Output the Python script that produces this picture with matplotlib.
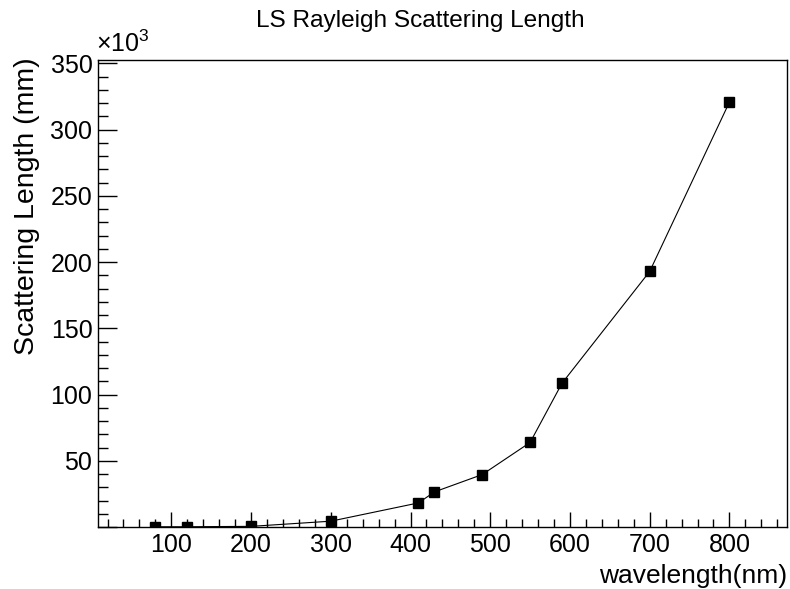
import matplotlib
matplotlib.use("Agg")
import matplotlib.pyplot as plt
from matplotlib.ticker import MultipleLocator, FuncFormatter

plt.rcParams["font.family"] = ["Liberation Sans", "DejaVu Sans"]
plt.rcParams["mathtext.fontset"] = "custom"
plt.rcParams["mathtext.rm"] = "Liberation Sans"
plt.rcParams["mathtext.it"] = "Liberation Sans"

# wavelength (nm) vs scattering length (mm)
wavelength = [80, 120, 200, 300, 410, 430, 490, 550, 590, 700, 800]
scat_length = [300, 300, 600, 4500, 18300, 26600, 39700, 63900, 108600, 193000, 320800]

fig = plt.figure(figsize=(7.9, 5.89), dpi=100)
ax = fig.add_axes([0.124, 0.105, 0.872, 0.793])

ax.plot(wavelength, scat_length, color="black", lw=0.8,
        marker="s", markersize=7, markerfacecolor="black", markeredgecolor="black")

ax.set_xlim(8, 872)
ax.set_ylim(0, 352500)

ax.xaxis.set_major_locator(MultipleLocator(100))
ax.xaxis.set_minor_locator(MultipleLocator(20))
ax.yaxis.set_major_locator(MultipleLocator(50000))
ax.yaxis.set_minor_locator(MultipleLocator(10000))

ax.xaxis.set_major_formatter(FuncFormatter(lambda v, p: "" if v <= 0 else f"{v:.0f}"))
ax.yaxis.set_major_formatter(FuncFormatter(lambda v, p: "" if v <= 0 else f"{v / 1000:.0f}"))

ax.tick_params(axis="both", which="both", direction="in", top=False, right=False,
               width=1.0, colors="black", labelsize=18)
ax.tick_params(axis="x", which="major", length=11, pad=4)
ax.tick_params(axis="x", which="minor", length=5.8)
ax.tick_params(axis="y", which="major", length=13.7, pad=4)
ax.tick_params(axis="y", which="minor", length=7.2)

for sp in ax.spines.values():
    sp.set_linewidth(1.0)

fig.text(0.532, 0.954, "LS Rayleigh Scattering Length", ha="center", va="baseline",
         fontsize=17.6)
fig.text(0.996, 0.0102, "wavelength(nm)", ha="right", va="baseline", fontsize=19)
fig.text(0.0506, 0.903, "Scattering Length (mm)", ha="right", va="top",
         rotation=90, fontsize=20.5)
fig.text(0.121, 0.903, r"$\times10^{3}$", ha="left", va="bottom", fontsize=18)

fig.savefig("out.png", dpi=100)
